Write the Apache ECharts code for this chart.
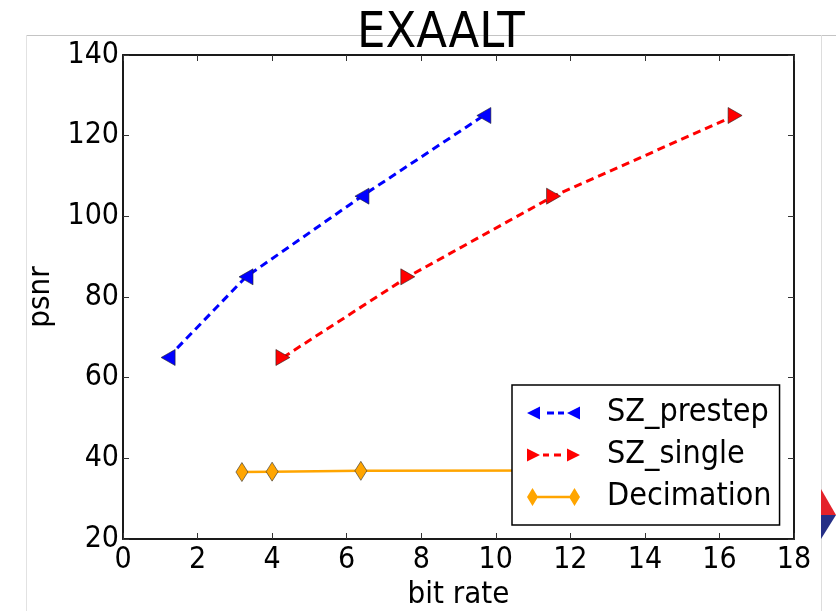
<!DOCTYPE html>
<html>
<head>
<meta charset="utf-8">
<script src="https://cdn.jsdelivr.net/npm/echarts@6/dist/echarts.min.js"></script>
<style>
html,body{margin:0;padding:0;background:#fff;}
#chart{width:836px;height:611px;}
</style>
</head>
<body>
<div id="chart"></div>
<script>
var titleText = 'EXAALT';
var xName = 'bit rate';
var yName = 'psnr';
var seriesNames = ['SZ_prestep', 'SZ_single', 'Decimation'];
var preX = [1.21, 3.30, 6.41, 9.68];
var preY = [65, 85, 105, 125];
var singleX = [4.29, 7.64, 11.55, 16.42];
var singleY = [65, 85, 105, 125];
var decX = [3.19, 4.0, 6.38, 12.0];
var decY = [36.6, 36.7, 36.9, 37.0];

function pairs(xs, ys){ return xs.map(function(x,i){ return [x, ys[i]]; }); }

var FONT = 'DejaVu Sans Condensed';
var chart = echarts.init(document.getElementById('chart'));

var sliver = ' M26 0 L26.05 0 L26.05 0.05 Z M26 18 L26.05 18 L26.05 17.95 Z';
var iconPre = 'path://M0 9 L13 2.5 L13 15.5 Z M20 7.5 L27 7.5 L27 10.5 L20 10.5 Z M31 7.5 L37 7.5 L37 10.5 L31 10.5 Z M40 9 L53 2.5 L53 15.5 Z' + sliver;
var iconSingle = 'path://M0 2.5 L13 9 L0 15.5 Z M16 7.5 L22 7.5 L22 10.5 L16 10.5 Z M27 7.5 L34 7.5 L34 10.5 L27 10.5 Z M40 2.5 L53 9 L40 15.5 Z' + sliver;
var iconDec = 'path://M5.5 0 L11 9 L5.5 18 L0 9 Z M10 7.8 L44 7.8 L44 10.2 L10 10.2 Z M47.5 0 L53 9 L47.5 18 L42 9 Z';

var axisCommon = {
  axisLine: {show: true, onZero: false, lineStyle: {color: '#1a1a1a', width: 2}},
  axisTick: {show: true, inside: true, length: 6, lineStyle: {color: '#333', width: 1}},
  splitLine: {show: false}
};

var option = {
  animation: false,
  backgroundColor: '#fff',
  title: {
    text: titleText, left: 352, top: 4,
    textStyle: {fontFamily: FONT, fontSize: 50, fontWeight: 'normal', color: '#000'}
  },
  grid: {left: 123, right: 42, top: 55, bottom: 72, containLabel: false, outerBoundsMode: 'none'},
  legend: {
    orient: 'vertical', left: 512, top: 385,
    padding: [12, 8, 12, 15],
    itemWidth: 53, itemHeight: 18, itemGap: 10,
    backgroundColor: '#fff', borderColor: '#000', borderWidth: 1.5, borderRadius: 0,
    itemStyle: {borderWidth: 0},
    textStyle: {fontFamily: FONT, fontSize: 32, color: '#000', padding: [0,0,0,22]},
    data: [
      {name: seriesNames[0], icon: iconPre},
      {name: seriesNames[1], icon: iconSingle},
      {name: seriesNames[2], icon: iconDec}
    ],
    z: 10
  },
  xAxis: [
    Object.assign({}, axisCommon, {
      type: 'value', min: 0, max: 18, interval: 2,
      name: xName, nameLocation: 'middle', nameGap: 40,
      nameTextStyle: {fontFamily: FONT, fontSize: 31, color: '#000'},
      axisLabel: {fontFamily: FONT, fontSize: 30, color: '#000', margin: 6}
    }),
    Object.assign({}, axisCommon, {
      type: 'value', min: 0, max: 18, interval: 2, position: 'top',
      axisLabel: {show: false}
    })
  ],
  yAxis: [
    Object.assign({}, axisCommon, {
      type: 'value', min: 20, max: 140, interval: 20,
      name: yName, nameLocation: 'middle', nameGap: 62, nameRotate: 90,
      nameTextStyle: {fontFamily: FONT, fontSize: 31, color: '#000'},
      axisLabel: {fontFamily: FONT, fontSize: 30, color: '#000', margin: 4}
    }),
    Object.assign({}, axisCommon, {
      type: 'value', min: 20, max: 140, interval: 20, position: 'right',
      axisLabel: {show: false}
    })
  ],
  graphic: [
    {type: 'line', z: -10, silent: true, shape: {x1: 26, y1: 35.5, x2: 836, y2: 35.5}, style: {stroke: '#c4c4c4', lineWidth: 1.2}},
    {type: 'line', z: -10, silent: true, shape: {x1: 26.5, y1: 35, x2: 26.5, y2: 611}, style: {stroke: '#e2e2e2', lineWidth: 1}},
    {type: 'line', z: -10, silent: true, shape: {x1: 821.5, y1: 35, x2: 821.5, y2: 611}, style: {stroke: '#dddddd', lineWidth: 1}},
    {type: 'polygon', z: -5, silent: true, shape: {points: [[821, 489], [836, 515], [821, 515]]}, style: {fill: '#e4222a'}},
    {type: 'polygon', z: -5, silent: true, shape: {points: [[821, 515], [836, 515], [821, 539]]}, style: {fill: '#252f86'}}
  ],
  series: [
    {
      name: seriesNames[0], type: 'line', data: pairs(preX, preY),
      symbol: 'triangle', symbolRotate: 90, symbolSize: [16, 14],
      lineStyle: {color: '#0000ff', width: 3, type: [8, 5]},
      itemStyle: {color: '#0000ff', borderColor: '#222', borderWidth: 0.6}
    },
    {
      name: seriesNames[1], type: 'line', data: pairs(singleX, singleY),
      symbol: 'triangle', symbolRotate: -90, symbolSize: [16, 14],
      lineStyle: {color: '#ff0000', width: 3, type: [8, 5]},
      itemStyle: {color: '#ff0000', borderColor: '#222', borderWidth: 0.6}
    },
    {
      name: seriesNames[2], type: 'line', data: pairs(decX, decY),
      symbol: 'diamond', symbolSize: [12, 19],
      lineStyle: {color: '#ffa500', width: 2.5},
      itemStyle: {color: '#ffa500', borderColor: '#333', borderWidth: 0.6}
    }
  ]
};
chart.setOption(option);
</script>
</body>
</html>
